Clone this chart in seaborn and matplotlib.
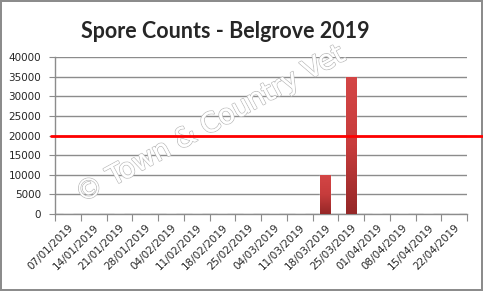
import matplotlib
matplotlib.use("Agg")
import matplotlib.pyplot as plt
import matplotlib.patheffects as pe
import matplotlib.transforms as mtrans
from matplotlib.colors import LinearSegmentedColormap
import seaborn as sns
import pandas as pd
import numpy as np

dates = ["07/01/2019", "14/01/2019", "21/01/2019", "28/01/2019", "04/02/2019",
         "11/02/2019", "18/02/2019", "25/02/2019", "04/03/2019", "11/03/2019",
         "18/03/2019", "25/03/2019", "01/04/2019", "08/04/2019", "15/04/2019",
         "22/04/2019"]
counts = [0, 0, 0, 0, 0, 0, 0, 0, 0, 0, 10000, 35000, 0, 0, 0, 0]
threshold = 20000
yticks = [0, 5000, 10000, 15000, 20000, 25000, 30000, 35000, 40000]

sns.set_style("white")
plt.rcParams['font.family'] = ['DejaVu Sans']

df = pd.DataFrame({"date": dates, "count": counts})

fig = plt.figure(figsize=(4.83, 2.91), dpi=100)
fig.patch.set_edgecolor("#8c8c8c")
fig.patch.set_linewidth(1.5)
ax = fig.add_axes([55/483, 1-214/291, 412/483, 157/291])

sns.barplot(data=df, x="date", y="count", ax=ax, color="#c23a3a",
            width=0.39, saturation=1, zorder=3)
ax.set_xlim(-0.5, len(dates)-0.5)
ax.set_ylim(0, 40000)

# vertical gradient fill inside each bar
cmap = LinearSegmentedColormap.from_list("barg", ["#952727", "#c73c3c", "#d44646"])
grad = np.linspace(0, 1, 256).reshape(-1, 1)
for p in list(ax.patches):
    h = p.get_height()
    if h <= 0:
        continue
    x0 = p.get_x()
    w = p.get_width()
    im = ax.imshow(grad, cmap=cmap, aspect="auto", origin="lower",
                   extent=[x0, x0 + w, 0, h], zorder=3.5, interpolation="bilinear")
    im.set_clip_path(p)
ax.set_xlim(-0.5, len(dates)-0.5)
ax.set_ylim(0, 40000)

ax.set_yticks(yticks)
ax.set_yticklabels([str(v) for v in yticks], fontsize=7.5)
ax.yaxis.grid(True, color="#8c8c8c", linewidth=1, zorder=0)
ax.set_axisbelow(True)
ax.set_xlabel("")
ax.set_ylabel("")

ax.set_xticks(np.arange(-0.5, len(dates), 1.0))
ax.set_xticklabels([])
ax.set_xticks(np.arange(len(dates)), minor=True)
ax.set_xticklabels(dates, minor=True, rotation=45, ha="right",
                   rotation_mode="anchor", fontsize=7.5)
ax.tick_params(axis="x", which="major", length=5, color="#8c8c8c", direction="out")
ax.tick_params(axis="x", which="minor", length=0, pad=6)
ax.tick_params(axis="y", length=4, color="#8c8c8c", direction="out", pad=6)
ax.tick_params(axis="both", bottom=True, left=True)
for s in ["top", "right"]:
    ax.spines[s].set_visible(False)
for s in ["left", "bottom"]:
    ax.spines[s].set_color("#8c8c8c")
    ax.spines[s].set_linewidth(1)

# watermark (above gridlines, below threshold line)
wm = ax.text(211/483, 1-125/291, "© Town & Country Vet", ha="center", va="center",
             fontsize=19.5, rotation=28.5, color="white", family=["DejaVu Sans"],
             transform=fig.transFigure, zorder=4, clip_on=False)
wm.set_path_effects([pe.withStroke(linewidth=1.2, foreground="#bdbdbd"), pe.Normal()])

# threshold line spanning to right edge of figure
tr = mtrans.blended_transform_factory(fig.transFigure, ax.transData)
ax.plot([51/483, 1.0], [threshold, threshold], color="red", linewidth=2,
        transform=tr, clip_on=False, zorder=5)

fig.text(225/483, 1-32/291, "Spore Counts - Belgrove 2019", ha="center",
         va="center", fontsize=15.5, fontweight="bold", family=["Lato", "DejaVu Sans"])

fig.savefig("out.png", dpi=100)
